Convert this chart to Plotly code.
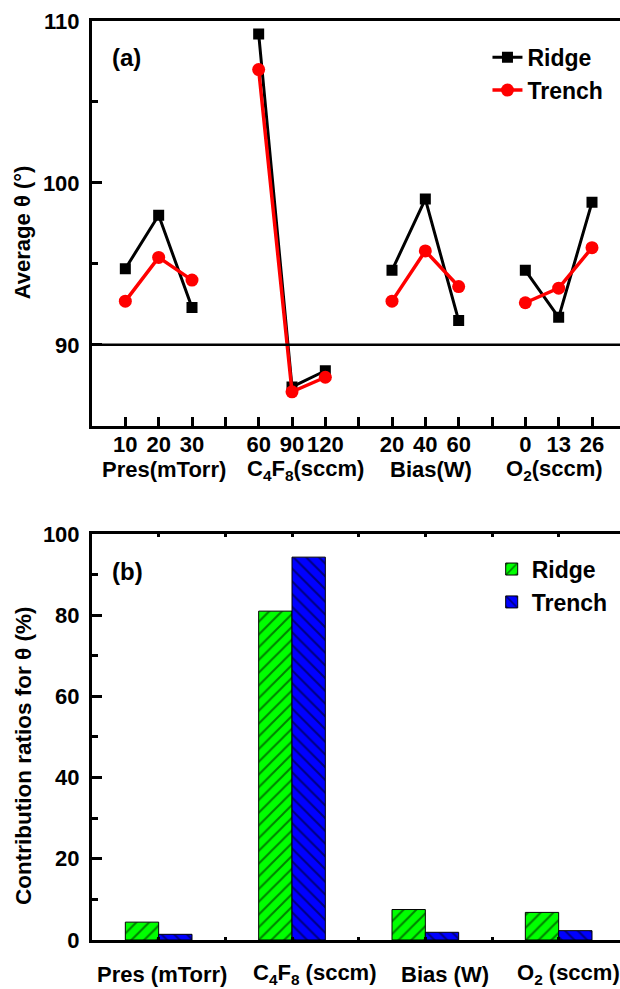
import plotly.graph_objects as go

# ---------------- data ----------------
factors = ["Pres(mTorr)", "C<sub>4</sub>F<sub>8</sub>(sccm)", "Bias(W)", "O<sub>2</sub>(sccm)"]
levels = [["10", "20", "30"], ["60", "90", "120"], ["20", "40", "60"], ["0", "13", "26"]]
ridge_theta = [[94.7, 98.0, 92.3], [109.2, 87.4, 88.4], [94.6, 99.0, 91.5], [94.6, 91.7, 98.8]]
trench_theta = [[92.7, 95.4, 94.0], [107.0, 87.1, 88.0], [92.7, 95.8, 93.6], [92.6, 93.5, 96.0]]

bar_factors = ["Pres (mTorr)", "C<sub>4</sub>F<sub>8</sub> (sccm)", "Bias (W)", "O<sub>2</sub> (sccm)"]
ridge_contrib = [4.4, 81.0, 7.5, 6.8]
trench_contrib = [1.4, 94.3, 1.9, 2.3]

# ---------------- layout helpers ----------------
GROUP = 4  # slots per factor group on the shared x scale
FONT = "Liberation Sans, Arial, sans-serif"

def group_positions(g, n):
    return [g * GROUP + 1 + i for i in range(n)]

def series_xy(values):
    xs, ys = [], []
    for g, vals in enumerate(values):
        xs += group_positions(g, len(vals)) + [None]
        ys += list(vals) + [None]
    return xs, ys

fig = go.Figure()

rx, ry = series_xy(ridge_theta)
tx, ty = series_xy(trench_theta)
fig.add_trace(go.Scatter(x=rx, y=ry, name="Ridge", mode="lines+markers",
                         line=dict(color="black", width=3),
                         marker=dict(symbol="square", size=11, color="black"),
                         xaxis="x", yaxis="y", legend="legend"))
fig.add_trace(go.Scatter(x=tx, y=ty, name="Trench", mode="lines+markers",
                         line=dict(color="#FF0000", width=3.5),
                         marker=dict(symbol="circle", size=13, color="#FF0000"),
                         xaxis="x", yaxis="y", legend="legend"))

bar_x = [g * GROUP + 2 for g in range(len(bar_factors))]
fig.add_trace(go.Bar(x=bar_x, y=ridge_contrib, name="Ridge", width=1, offset=-1,
                     marker=dict(color="#00FF00", line=dict(color="black", width=1),
                                 pattern=dict(shape="/", fgcolor="black", size=9, solidity=0.22)),
                     xaxis="x2", yaxis="y2", legend="legend2"))
fig.add_trace(go.Bar(x=bar_x, y=trench_contrib, name="Trench", width=1, offset=0,
                     marker=dict(color="#0000FF", line=dict(color="black", width=1),
                                 pattern=dict(shape="\\", fgcolor="black", size=9, solidity=0.22)),
                     xaxis="x2", yaxis="y2", legend="legend2"))

n_slots = GROUP * len(factors)
xr = [0, 15.84]
tickvals_top, ticktext_top = [], []
for g in range(len(factors)):
    tickvals_top += group_positions(g, len(levels[g]))
    ticktext_top += levels[g]
gap_ticks = [(g + 1) * GROUP for g in range(len(factors))]

axis_common = dict(showline=True, linecolor="black", linewidth=3, showgrid=False,
                   zeroline=False, ticks="inside", tickcolor="black", tickwidth=3)

fig.update_layout(
    width=620, height=989,
    margin=dict(l=92, r=0, t=21, b=48.5),
    paper_bgcolor="white", plot_bgcolor="white",
    font=dict(family=FONT, size=22, color="black", weight="bold"),
    barmode="overlay",
    xaxis=dict(domain=[0, 1], range=xr, anchor="y", mirror=True,
               tickvals=tickvals_top, ticktext=ticktext_top, ticklen=9, ticklabelstandoff=-3,
               minor=dict(tickvals=gap_ticks, ticklen=9, ticks="inside", tickwidth=3, tickcolor="black"),
               tickfont=dict(size=22), **axis_common),
    yaxis=dict(domain=[0.5595, 1], range=[85, 110], anchor="x",
               tickvals=[90, 100, 110], ticklen=10, ticklabelstandoff=5,
               minor=dict(tickvals=[95, 105], ticklen=6, ticks="inside", tickwidth=3, tickcolor="black"),
               tickfont=dict(size=22), **axis_common),
    xaxis2=dict(domain=[0, 1], range=xr, anchor="y2", mirror="ticks",
                tickvals=list(range(2, n_slots + 1, 2)), ticklen=3, showticklabels=False,
                **axis_common),
    yaxis2=dict(domain=[0, 0.4418], range=[0, 100], anchor="x2",
                tickvals=[0, 20, 40, 60, 80, 100], ticklen=10, ticklabelstandoff=5,
                minor=dict(tickvals=[10, 30, 50, 70, 90], ticklen=6, ticks="inside", tickwidth=3, tickcolor="black"),
                tickfont=dict(size=22), **axis_common),
    legend=dict(x=0.749, y=0.984, xanchor="left", yanchor="top", bgcolor="rgba(0,0,0,0)",
                font=dict(size=23, family=FONT, weight="bold"), tracegroupgap=0),
    legend2=dict(x=0.757, y=0.427, xanchor="left", yanchor="top", bgcolor="rgba(0,0,0,0)",
                 font=dict(size=23, family=FONT, weight="bold"), tracegroupgap=0),
    showlegend=True,
)

fig.add_shape(type="line", xref="x domain", yref="y", x0=0, x1=1, y0=90, y1=90,
              line=dict(color="black", width=2.5))

annots = []
top_label_x = [2.16, 6.39, 10.16, 13.86]
for name, xp in zip(factors, top_label_x):
    annots.append(dict(text=name, x=xp, xref="x", y=(940.5 - 470) / 919.5, yref="paper",
                       xanchor="center", yanchor="middle", showarrow=False,
                       font=dict(size=22, family=FONT, weight="bold")))
bottom_label_x = [2.1, 6.7, 10.6, 14.3]
for name, xp in zip(bar_factors, bottom_label_x):
    annots.append(dict(text=name, x=xp, xref="x2", y=-0.0375, yref="paper",
                       xanchor="center", yanchor="middle", showarrow=False,
                       font=dict(size=22, family=FONT, weight="bold")))
annots += [
    dict(text="(a)", x=0.0644, y=0.9598, xref="paper", yref="paper", showarrow=False,
         xanchor="center", yanchor="middle", font=dict(size=24, family=FONT, weight="bold")),
    dict(text="(b)", x=0.0672, y=0.4008, xref="paper", yref="paper", showarrow=False,
         xanchor="center", yanchor="middle", font=dict(size=24, family=FONT, weight="bold")),
    dict(text="Average θ (°)", x=-0.13, y=(940.5 - 232) / 919.5, xref="paper", yref="paper",
         textangle=-90, showarrow=False, xanchor="center", yanchor="middle",
         font=dict(size=22, family=FONT, weight="bold")),
    dict(text="Contribution ratios for θ (%)", x=-0.13, y=(940.5 - 756) / 919.5, xref="paper",
         yref="paper", textangle=-90, showarrow=False, xanchor="center", yanchor="middle",
         font=dict(size=22.5, family=FONT, weight="bold")),
]
fig.update_layout(annotations=annots)

fig.write_html("out.html", config={"displayModeBar": False},
               post_script="document.body.style.margin='0';document.body.style.overflow='hidden';")
